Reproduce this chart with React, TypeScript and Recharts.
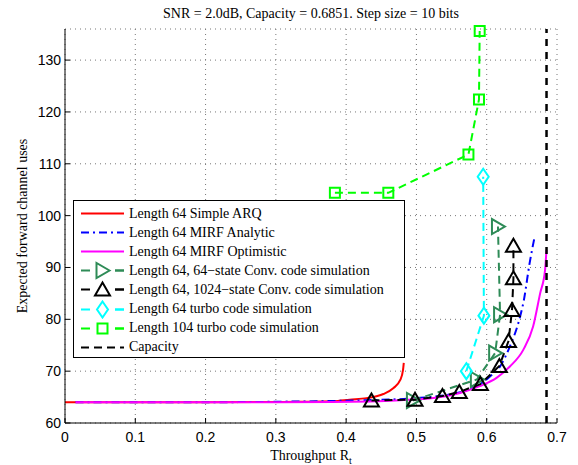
import React from 'react';
import { LineChart, Line, XAxis, YAxis, CartesianGrid, ReferenceLine, Legend } from 'recharts';

const W = 570;
const H = 457;
const SERIF = '"Liberation Serif", "Times New Roman", Times, serif';
const SANS = '"Liberation Sans", Arial, Helvetica, sans-serif';

const TITLE = 'SNR = 2.0dB, Capacity = 0.6851. Step size = 10 bits';
const X_LABEL = 'Throughput R';
const X_LABEL_SUB = 't';
const Y_LABEL = 'Expected forward channel uses';

const xTicks = [0, 0.1, 0.2, 0.3, 0.4, 0.5, 0.6, 0.7];
const yTicks = [60, 70, 80, 90, 100, 110, 120, 130];
const CAPACITY = 0.6851;

// Length 64 Simple ARQ
const arqX = [0, 0.1, 0.2, 0.3, 0.334, 0.382, 0.405, 0.429, 0.453, 0.467, 0.477, 0.481, 0.482];
const arqY = [64, 64, 64, 64.05, 64.1, 64.2, 64.5, 64.8, 65.6, 66.7, 68.3, 70.3, 71.6];

// Length 64 MIRF Analytic
const anaX = [0.015, 0.1, 0.2, 0.3, 0.4, 0.5, 0.55, 0.586, 0.605, 0.619, 0.633, 0.645, 0.653, 0.661, 0.668];
const anaY = [64, 64, 64, 64.1, 64.3, 64.8, 65.6, 67.1, 69.0, 70.9, 74.8, 79.3, 83.8, 90.8, 95.8];

// Length 64 MIRF Optimistic
const optX = [0.015, 0.1, 0.2, 0.3, 0.381, 0.477, 0.524, 0.562, 0.59, 0.614, 0.633, 0.652, 0.666, 0.676, 0.683, 0.685];
const optY = [64, 64, 64, 64, 64.05, 64.4, 64.8, 65.8, 67.1, 68.7, 70.9, 74.1, 78.6, 85.0, 89.5, 93.4];

// Length 64, 64-state Conv. code simulation
const conv64X = [0.495, 0.586, 0.612, 0.619, 0.616];
const conv64Y = [64.35, 68.4, 73.5, 80.9, 97.9];

// Length 64, 1024-state Conv. code simulation
const conv1024X = [0.436, 0.498, 0.537, 0.561, 0.591, 0.618, 0.631, 0.636, 0.638, 0.638];
const conv1024Y = [64.35, 64.5, 65.2, 66.0, 67.5, 71.0, 75.8, 81.8, 87.9, 94.2];

// Length 64 turbo code simulation
const turbo64X = [0.571, 0.596, 0.595];
const turbo64Y = [70.0, 80.7, 107.5];

// Length 104 turbo code simulation
const turbo104X = [0.384, 0.46, 0.574, 0.589, 0.59];
const turbo104Y = [104.4, 104.4, 111.8, 122.4, 135.6];

const toPts = (xs: number[], ys: number[]) => xs.map((x, i) => ({ x, y: ys[i] }));

type ShapeFn = (cx: number, cy: number) => string;
const triUp: ShapeFn = (cx, cy) => `M${cx},${cy - 7} L${cx + 7.5},${cy + 6} L${cx - 7.5},${cy + 6} Z`;
const triRight: ShapeFn = (cx, cy) => `M${cx + 7},${cy} L${cx - 6},${cy - 7.5} L${cx - 6},${cy + 7.5} Z`;
const diamond: ShapeFn = (cx, cy) => `M${cx},${cy - 8} L${cx + 5.5},${cy} L${cx},${cy + 8} L${cx - 5.5},${cy} Z`;
const square: ShapeFn = (cx, cy) => `M${cx - 5},${cy - 5} h10 v10 h-10 Z`;

const makeDot = (shape: ShapeFn, color: string) => (props: any) => {
  const { cx, cy, index } = props;
  if (cx == null || cy == null) return <g key={`d${index}`} />;
  return (
    <path
      key={`d${index}`}
      d={shape(cx, cy)}
      fill="none"
      stroke={color}
      strokeWidth={2}
      strokeDasharray="none"
    />
  );
};

const RED = '#ff0000';
const BLUE = '#0000ff';
const MAGENTA = '#ff00ff';
const DKGREEN = '#2e8b57';
const BLACK = '#000000';
const CYAN = '#00ffff';
const LIME = '#00ff00';

const DASH = '8 5';
const DASHDOT = '8 4 2 4';

const legendItems: { label: string; color: string; dash?: string; shape?: ShapeFn }[] = [
  { label: 'Length 64 Simple ARQ', color: RED },
  { label: 'Length 64 MIRF Analytic', color: BLUE, dash: DASHDOT },
  { label: 'Length 64 MIRF Optimistic', color: MAGENTA },
  { label: 'Length 64, 64\u2212state Conv. code simulation', color: DKGREEN, dash: DASH, shape: triRight },
  { label: 'Length 64, 1024\u2212state Conv. code simulation', color: BLACK, dash: DASH, shape: triUp },
  { label: 'Length 64 turbo code simulation', color: CYAN, dash: DASH, shape: diamond },
  { label: 'Length 104 turbo code simulation', color: LIME, dash: DASH, shape: square },
  { label: 'Capacity', color: BLACK, dash: DASH },
];

const LegendBox = () => (
  <div
    style={{
      width: 332,
      height: 158,
      boxSizing: 'border-box',
      border: '1px solid #000',
      background: '#fff',
      paddingTop: 3,
    }}
  >
    {legendItems.map((it, i) => (
      <div key={i} style={{ display: 'flex', alignItems: 'center', height: 19.1 }}>
        <svg width={43} height={19} style={{ marginLeft: 7, flex: 'none' }}>
          <line
            x1={0}
            x2={43}
            y1={9.5}
            y2={9.5}
            stroke={it.color}
            strokeWidth={2}
            strokeDasharray={it.dash ? (it.shape ? '9 25' : it.dash) : undefined}
          />
          {it.shape ? (
            <>
              <line x1={34} x2={43} y1={9.5} y2={9.5} stroke={it.color} strokeWidth={2} />
              <path d={it.shape(21.5, 9.5)} fill="none" stroke={it.color} strokeWidth={2} />
            </>
          ) : null}
        </svg>
        <span
          style={{
            marginLeft: 5,
            fontFamily: SERIF,
            fontSize: 14,
            lineHeight: '14px',
            whiteSpace: 'nowrap',
            color: '#000',
          }}
        >
          {it.label}
        </span>
      </div>
    ))}
  </div>
);

export default function App() {
  const tickStyle = { fontFamily: SANS, fontSize: 14, fill: '#000' };
  return (
    <div style={{ position: 'relative', width: W, height: H }}>
      <LineChart width={W} height={H} margin={{ top: 21, right: 21, bottom: 12, left: 0 }}>
        <CartesianGrid stroke="#777" strokeDasharray="1 4" strokeWidth={1} />
        <XAxis
          dataKey="x"
          type="number"
          domain={[0, 0.7]}
          ticks={xTicks}
          interval={0}
          height={30}
          tickSize={-5}
          tickMargin={14}
          tick={tickStyle}
          tickFormatter={(v: number) => String(v)}
          axisLine={{ stroke: '#000', strokeWidth: 1 }}
          tickLine={{ stroke: '#000' }}
        />
        <XAxis
          xAxisId="top"
          orientation="top"
          dataKey="x"
          type="number"
          domain={[0, 0.7]}
          ticks={xTicks}
          height={0}
          tickSize={-5}
          tick={false}
          axisLine={{ stroke: '#000', strokeWidth: 1 }}
          tickLine={{ stroke: '#000' }}
        />
        <YAxis
          type="number"
          domain={[60, 136]}
          ticks={yTicks}
          interval={0}
          width={57}
          tickSize={-5}
          tickMargin={9}
          tick={tickStyle}
          axisLine={{ stroke: '#000', strokeWidth: 1 }}
          tickLine={{ stroke: '#000' }}
        />
        <YAxis
          yAxisId="right"
          orientation="right"
          type="number"
          domain={[60, 136]}
          ticks={yTicks}
          width={0}
          tickSize={-5}
          tick={false}
          axisLine={{ stroke: '#000', strokeWidth: 1 }}
          tickLine={{ stroke: '#000' }}
        />
        <Legend
          layout="vertical"
          align="center"
          verticalAlign="middle"
          content={() => <LegendBox />}
          wrapperStyle={{ position: 'absolute', left: 65, top: 192, width: 332, height: 158 }}
        />
        <Line
          data={toPts(arqX, arqY)}
          dataKey="y"
          type="monotone"
          stroke={RED}
          strokeWidth={2}
          dot={false}
          isAnimationActive={false}
        />
        <Line
          data={toPts(anaX, anaY)}
          dataKey="y"
          type="monotone"
          stroke={BLUE}
          strokeWidth={2}
          strokeDasharray={DASHDOT}
          dot={false}
          isAnimationActive={false}
        />
        <Line
          data={toPts(optX, optY)}
          dataKey="y"
          type="monotone"
          stroke={MAGENTA}
          strokeWidth={2}
          dot={false}
          isAnimationActive={false}
        />
        <Line
          data={toPts(conv64X, conv64Y)}
          dataKey="y"
          type="linear"
          stroke={DKGREEN}
          strokeWidth={2}
          strokeDasharray={DASH}
          dot={makeDot(triRight, DKGREEN)}
          isAnimationActive={false}
        />
        <Line
          data={toPts(conv1024X, conv1024Y)}
          dataKey="y"
          type="linear"
          stroke={BLACK}
          strokeWidth={2}
          strokeDasharray={DASH}
          dot={makeDot(triUp, BLACK)}
          isAnimationActive={false}
        />
        <Line
          data={toPts(turbo64X, turbo64Y)}
          dataKey="y"
          type="linear"
          stroke={CYAN}
          strokeWidth={2}
          strokeDasharray={DASH}
          dot={makeDot(diamond, CYAN)}
          isAnimationActive={false}
        />
        <Line
          data={toPts(turbo104X, turbo104Y)}
          dataKey="y"
          type="linear"
          stroke={LIME}
          strokeWidth={2}
          strokeDasharray={DASH}
          dot={makeDot(square, LIME)}
          isAnimationActive={false}
        />
        <ReferenceLine x={CAPACITY} stroke={BLACK} strokeWidth={2.5} strokeDasharray="7 6" />
      </LineChart>
      <svg
        width={W}
        height={H}
        style={{ position: 'absolute', left: 0, top: 0, pointerEvents: 'none', overflow: 'visible' }}
      >
        <text x={303} y={10} textAnchor="middle" fontFamily={SERIF} fontSize={14} fill="#000">
          {TITLE}
        </text>
        <text x={303} y={452} textAnchor="middle" fontFamily={SERIF} fontSize={14} fill="#000">
          {X_LABEL}
          <tspan dy={4} fontSize={10}>
            {X_LABEL_SUB}
          </tspan>
        </text>
        <text
          x={0}
          y={0}
          transform="translate(19,218) rotate(-90)"
          textAnchor="middle"
          fontFamily={SERIF}
          fontSize={14}
          fill="#000"
        >
          {Y_LABEL}
        </text>
      </svg>
    </div>
  );
}
